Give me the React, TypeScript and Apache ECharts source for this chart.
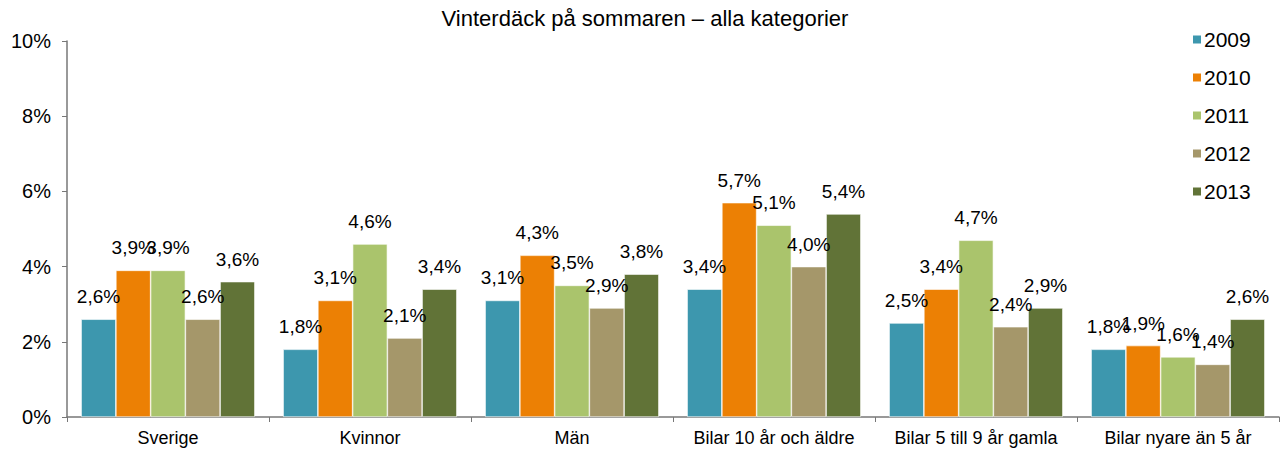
import React, { useEffect, useRef } from "react";
import * as echarts from "echarts";

const categories = [
  "Sverige",
  "Kvinnor",
  "Män",
  "Bilar 10 år och äldre",
  "Bilar 5 till 9 år gamla",
  "Bilar nyare än 5 år",
];
const seriesNames = ["2009", "2010", "2011", "2012", "2013"];
const values2009 = [2.6, 1.8, 3.1, 3.4, 2.5, 1.8];
const values2010 = [3.9, 3.1, 4.3, 5.7, 3.4, 1.9];
const values2011 = [3.9, 4.6, 3.5, 5.1, 4.7, 1.6];
const values2012 = [2.6, 2.1, 2.9, 4.0, 2.4, 1.4];
const values2013 = [3.6, 3.4, 3.8, 5.4, 2.9, 2.6];
const allValues = [values2009, values2010, values2011, values2012, values2013];
const colors = ["#3D97AE", "#EC8004", "#AAC46C", "#A5976A", "#617337"];
const yTicks = [0, 2, 4, 6, 8, 10];

const FONT = "'Liberation Sans', Arial, Helvetica, sans-serif";

export default function App() {
  const ref = useRef<HTMLDivElement>(null);
  useEffect(() => {
    if (!ref.current) return;
    const chart = echarts.init(ref.current, null, { renderer: "svg" });
    chart.setOption({
      animation: false,
      textStyle: { fontFamily: FONT },
      title: {
        text: "Vinterdäck på sommaren – alla kategorier",
        left: 645,
        textAlign: "center",
        top: 7,
        padding: 0,
        textStyle: { fontFamily: FONT, fontSize: 22, fontWeight: "normal", color: "#000" },
      },
      legend: {
        orient: "vertical",
        left: 1191,
        top: 29,
        padding: 0,
        itemWidth: 10,
        itemHeight: 10,
        itemGap: 17,
        icon: "rect",
        data: seriesNames,
        textStyle: { fontFamily: FONT, fontSize: 21, color: "#000", padding: [0, 0, 0, -3] },
      },
      grid: { left: 67, right: 8, top: 41, bottom: 35, containLabel: false },
      xAxis: {
        type: "category",
        data: categories,
        axisLine: { lineStyle: { color: "#777", width: 1.5 } },
        axisTick: { show: true, length: 5, interval: 0, lineStyle: { color: "#777" } },
        axisLabel: { fontFamily: FONT, fontSize: 18, color: "#000", margin: 12, interval: 0, hideOverlap: false },
      },
      yAxis: {
        type: "value",
        min: 0,
        max: 10,
        interval: 2,
        splitLine: { show: false },
        axisLine: { show: true, lineStyle: { color: "#777", width: 1.5 } },
        axisTick: { show: true, length: 5, lineStyle: { color: "#777" } },
        axisLabel: {
          fontFamily: FONT,
          fontSize: 20,
          color: "#000",
          margin: 16,
          formatter: (v: number) => (yTicks.includes(v) ? `${v}%` : ""),
        },
      },
      series: seriesNames.map((name, i) => ({
        name,
        type: "bar",
        data: allValues[i],
        barGap: "0%",
        barCategoryGap: "14%",
        itemStyle: { color: colors[i], borderColor: "#fff", borderWidth: 0.6 },
        label: {
          show: true,
          position: "top",
          distance: 13,
          fontFamily: FONT,
          fontSize: 19,
          color: "#000",
          formatter: (p: any) => `${p.value.toFixed(1).replace(".", ",")}%`,
        },
      })),
    });
    return () => chart.dispose();
  }, []);
  return (
    <div
      ref={ref}
      style={{ position: "absolute", left: 0, top: 0, width: 1287, height: 452, background: "#fff" }}
    />
  );
}
